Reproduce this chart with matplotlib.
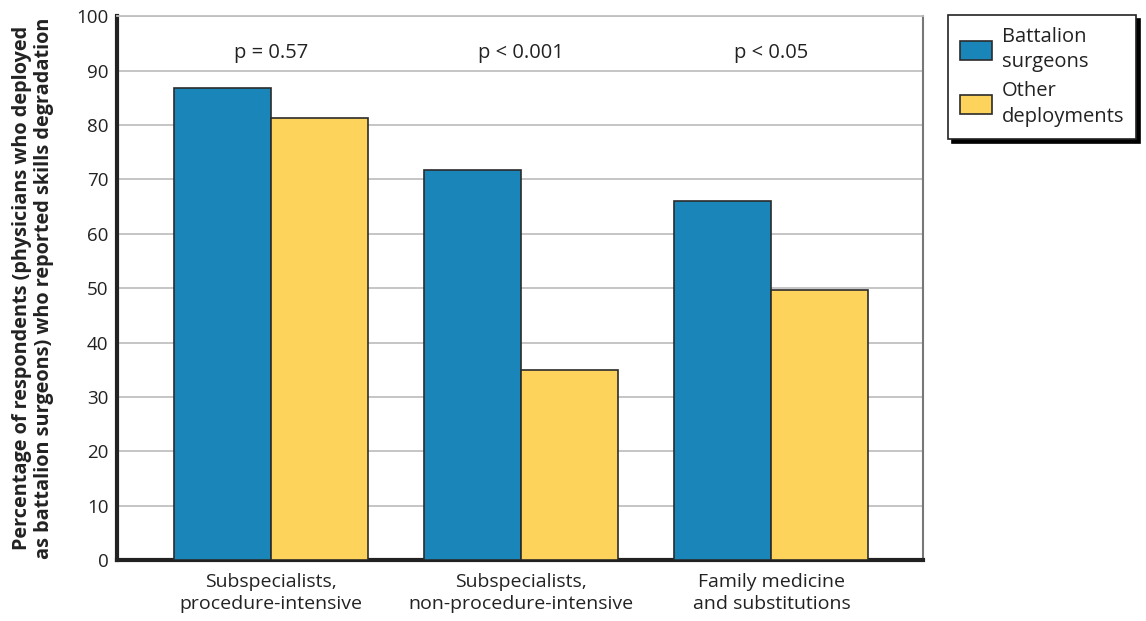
import numpy as np
import matplotlib.pyplot as plt

plt.rcParams['font.family'] = ['Open Sans', 'DejaVu Sans']

categories = ['Subspecialists,\nprocedure-intensive',
              'Subspecialists,\nnon-procedure-intensive',
              'Family medicine\nand substitutions']
battalion = [86.8, 71.7, 66.0]
other = [81.3, 34.9, 49.6]
p_labels = ['p = 0.57', 'p < 0.001', 'p < 0.05']
series_names = ['Battalion\nsurgeons', 'Other\ndeployments']

fig = plt.figure(figsize=(11.46, 6.21), dpi=100)
ax = fig.add_axes([0.102, 0.098, 0.703, 0.876])

x = np.arange(len(categories))
w = 0.388
ax.bar(x - w / 2, battalion, w, color='#1a85b9', edgecolor='#2b2b2b',
       linewidth=1.2, label=series_names[0], zorder=3)
ax.bar(x + w / 2, other, w, color='#fdd35c', edgecolor='#2b2b2b',
       linewidth=1.2, label=series_names[1], zorder=3)

for xi, txt in zip(x, p_labels):
    ax.text(xi, 93.3, txt, ha='center', va='center', fontsize=14.5, color='#222222')

ax.set_xlim(-0.616, 2.604)
ax.set_ylim(0, 100)
ax.set_yticks(range(0, 101, 10))
ax.set_xticks(x)
ax.set_xticklabels(categories, fontsize=14, color='#222222', linespacing=1.3)
ax.tick_params(axis='y', labelsize=13.5, length=0, pad=6, labelcolor='#222222')
ax.tick_params(axis='x', length=0, pad=9)
ax.yaxis.grid(True, color='#c0c0c0', linewidth=1.3, zorder=0)
ax.set_axisbelow(True)

ax.spines['left'].set_linewidth(3)
ax.spines['bottom'].set_linewidth(3)
ax.spines['left'].set_color('#222222')
ax.spines['bottom'].set_color('#222222')
ax.spines['right'].set_color('#777777')
ax.spines['right'].set_linewidth(1.5)
ax.spines['top'].set_color('#c0c0c0')
ax.spines['top'].set_linewidth(1.3)

ax.set_ylabel('Percentage of respondents (physicians who deployed\n'
              'as battalion surgeons) who reported skills degradation',
              fontsize=14.3, fontweight='bold', color='#222222', labelpad=16,
              linespacing=1.15)

leg = ax.legend(loc='upper left', bbox_to_anchor=(1.032, 1.002), fontsize=14.5,
                frameon=True, fancybox=False, edgecolor='#222222',
                borderaxespad=0, handlelength=1.55, handleheight=1.1,
                borderpad=0.6, labelspacing=0.45, handletextpad=0.5,
                shadow={'ox': 3, 'oy': -3, 'color': 'black', 'alpha': 1})
leg.get_frame().set_linewidth(1.2)
for t in leg.get_texts():
    t.set_linespacing(1.35)
    t.set_color('#222222')

fig.savefig('out.png', dpi=100)
